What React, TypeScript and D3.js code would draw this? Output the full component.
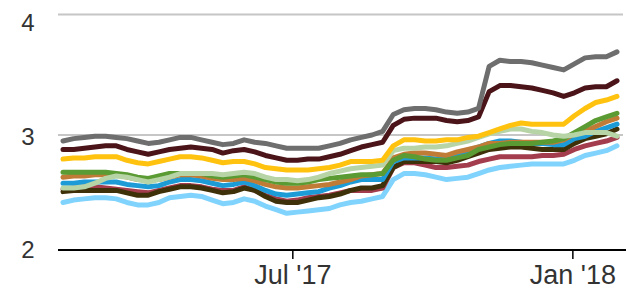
import React from "react";
import * as d3 from "d3";

const width = 626;
const height = 293;

// weekly observations, Tue Jan 31 2017 .. Tue Jan 30 2018
const dates = d3.timeTuesday.range(new Date(2017, 0, 31), new Date(2018, 0, 31));

const grayVals = [2.95,2.97,2.98,2.99,2.99,2.98,2.97,2.95,2.93,2.94,2.96,2.98,2.98,2.96,2.94,2.92,2.93,2.96,2.94,2.93,2.91,2.89,2.89,2.89,2.89,2.91,2.93,2.96,2.98,3.0,3.03,3.17,3.21,3.22,3.22,3.21,3.19,3.18,3.19,3.22,3.57,3.62,3.61,3.61,3.6,3.58,3.56,3.54,3.59,3.64,3.65,3.65,3.69];
const maroonVals = [2.88,2.88,2.89,2.9,2.91,2.91,2.88,2.86,2.84,2.86,2.88,2.89,2.9,2.89,2.88,2.85,2.87,2.88,2.86,2.83,2.81,2.79,2.79,2.8,2.8,2.82,2.84,2.87,2.9,2.92,2.94,3.08,3.13,3.14,3.14,3.14,3.12,3.11,3.12,3.15,3.36,3.41,3.41,3.4,3.39,3.37,3.35,3.32,3.35,3.39,3.4,3.4,3.45];
const goldVals = [2.8,2.81,2.81,2.82,2.82,2.82,2.79,2.77,2.76,2.78,2.8,2.82,2.82,2.81,2.79,2.77,2.78,2.78,2.76,2.73,2.72,2.71,2.71,2.71,2.72,2.73,2.75,2.78,2.78,2.78,2.79,2.91,2.96,2.96,2.95,2.95,2.96,2.96,2.98,2.99,3.02,3.05,3.08,3.1,3.09,3.09,3.09,3.09,3.16,3.22,3.27,3.29,3.32];
const greenVals = [2.69,2.69,2.69,2.69,2.69,2.68,2.67,2.65,2.64,2.66,2.68,2.68,2.68,2.68,2.66,2.65,2.66,2.67,2.65,2.63,2.61,2.6,2.6,2.61,2.63,2.64,2.65,2.66,2.67,2.67,2.68,2.79,2.83,2.82,2.8,2.79,2.79,2.81,2.83,2.88,2.9,2.92,2.93,2.93,2.93,2.94,2.95,2.97,3.02,3.07,3.12,3.15,3.18];
const brownVals = [2.65,2.66,2.66,2.67,2.67,2.67,2.65,2.63,2.63,2.63,2.65,2.67,2.67,2.66,2.64,2.63,2.63,2.64,2.62,2.59,2.57,2.56,2.56,2.57,2.58,2.59,2.61,2.63,2.66,2.67,2.68,2.81,2.84,2.85,2.85,2.84,2.83,2.86,2.88,2.9,2.93,2.93,2.94,2.94,2.94,2.94,2.94,2.96,3.01,3.03,3.07,3.11,3.14];
const sageVals = [2.56,2.56,2.57,2.6,2.64,2.66,2.65,2.63,2.61,2.63,2.65,2.68,2.68,2.68,2.68,2.67,2.68,2.69,2.68,2.65,2.63,2.63,2.62,2.63,2.65,2.68,2.7,2.72,2.73,2.74,2.75,2.87,2.89,2.89,2.9,2.9,2.91,2.93,2.95,2.98,3.01,3.03,3.05,3.05,3.03,3.02,3.0,2.99,3.0,3.02,3.02,3.02,2.99];
const blueVals = [2.6,2.6,2.61,2.61,2.61,2.61,2.59,2.58,2.57,2.58,2.61,2.63,2.63,2.62,2.6,2.58,2.59,2.61,2.58,2.54,2.51,2.5,2.51,2.52,2.53,2.56,2.58,2.61,2.63,2.63,2.63,2.78,2.81,2.81,2.81,2.8,2.81,2.83,2.87,2.9,2.93,2.95,2.95,2.94,2.93,2.93,2.92,2.92,2.97,2.99,3.03,3.06,3.09];
const redVals = [2.55,2.56,2.57,2.57,2.56,2.55,2.54,2.53,2.52,2.54,2.56,2.58,2.58,2.57,2.55,2.54,2.54,2.57,2.54,2.5,2.47,2.45,2.46,2.48,2.49,2.5,2.52,2.54,2.54,2.54,2.56,2.73,2.77,2.77,2.75,2.73,2.73,2.74,2.75,2.78,2.8,2.82,2.82,2.82,2.82,2.83,2.83,2.84,2.88,2.91,2.93,2.95,2.98];
const darkVals = [2.53,2.54,2.54,2.54,2.54,2.54,2.52,2.5,2.5,2.53,2.55,2.57,2.57,2.56,2.54,2.52,2.53,2.56,2.54,2.49,2.45,2.44,2.44,2.46,2.48,2.49,2.51,2.54,2.56,2.56,2.58,2.73,2.78,2.78,2.78,2.78,2.77,2.79,2.82,2.85,2.88,2.89,2.9,2.9,2.89,2.88,2.88,2.88,2.93,2.97,2.99,3.01,3.05];
const lightBlueVals = [2.44,2.46,2.47,2.48,2.48,2.47,2.44,2.42,2.42,2.44,2.48,2.49,2.5,2.49,2.46,2.43,2.44,2.47,2.45,2.41,2.38,2.35,2.36,2.37,2.38,2.39,2.42,2.44,2.45,2.47,2.49,2.63,2.68,2.68,2.67,2.65,2.63,2.64,2.65,2.68,2.71,2.73,2.74,2.75,2.76,2.76,2.76,2.76,2.79,2.83,2.85,2.87,2.91];

// drawn bottom to top
const series = [
  { name: "lightBlue", color: "#80d3fc", values: lightBlueVals },
  { name: "red", color: "#a33c4c", values: redVals },
  { name: "dark", color: "#3e3008", values: darkVals },
  { name: "blue", color: "#1d9bd7", values: blueVals },
  { name: "brown", color: "#c07b37", values: brownVals },
  { name: "green", color: "#5b9b34", values: greenVals },
  { name: "sage", color: "#b6d4a6", values: sageVals },
  { name: "gold", color: "#ffc20e", values: goldVals },
  { name: "maroon", color: "#4a1419", values: maroonVals },
  { name: "gray", color: "#6e6e6e", values: grayVals }
];

const yTicks = [2, 3, 4];
const gridTicks = [3, 4];
const xTicks = [new Date(2017, 6, 1), new Date(2018, 0, 1)];
const fmt = d3.timeFormat("%b '%y");

const plot = { left: 58, right: 623, baselineY: 250 };

const App = () => {
  const x = d3
    .scaleTime()
    .domain([dates[0], dates[dates.length - 1]])
    .range([63, 617]);
  const y = d3.scaleLinear().domain([3, 4]).range([135, 14.5]);
  const yLabel = d3.scaleLinear().domain([2, 4]).range([250, 23]);

  const line = d3
    .line<number>()
    .x((_, i) => x(dates[i]))
    .y(v => y(v));

  return (
    <svg width={width} height={height} style={{ position: "absolute", left: 0, top: 0 }}>
      {gridTicks.map(t => (
        <line key={t} x1={plot.left} x2={plot.right} y1={y(t)} y2={y(t)} stroke="#c6c6c6" strokeWidth={2} />
      ))}
      {series.map(s => (
        <path
          key={s.name}
          d={line(s.values) || ""}
          fill="none"
          stroke={s.color}
          strokeWidth={5}
          strokeLinejoin="round"
          strokeLinecap="round"
        />
      ))}
      <line x1={plot.left} x2={width} y1={plot.baselineY} y2={plot.baselineY} stroke="#000" strokeWidth={2} />
      {xTicks.map(t => (
        <g key={t.getTime()} transform={`translate(${x(t)},${plot.baselineY})`}>
          <line y1={0} y2={9} stroke="#000" strokeWidth={1.5} />
          <text
            y={34}
            textAnchor="middle"
            fontFamily="Liberation Sans, Arial, sans-serif"
            fontSize={27}
            fill="#333"
          >
            {fmt(t)}
          </text>
        </g>
      ))}
      {yTicks.map(t => (
        <text
          key={t}
          x={28}
          y={yLabel(t)}
          dy="0.35em"
          textAnchor="middle"
          fontFamily="Liberation Sans, Arial, sans-serif"
          fontSize={24}
          fill="#333"
        >
          {t}
        </text>
      ))}
    </svg>
  );
};

export default App;
